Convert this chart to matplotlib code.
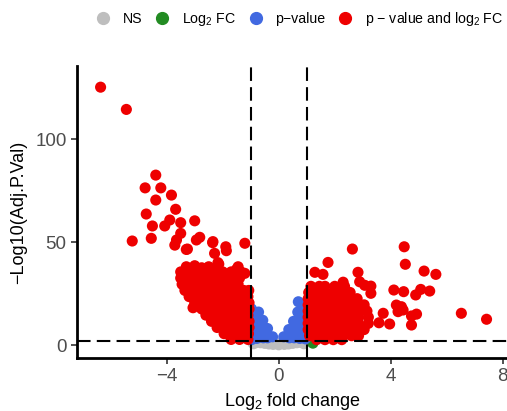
import numpy as np
import matplotlib
matplotlib.use("Agg")
import matplotlib.pyplot as plt
from matplotlib.lines import Line2D

plt.rcParams['font.family'] = ['Liberation Sans', 'DejaVu Sans']
plt.rcParams['mathtext.fontset'] = 'custom'
plt.rcParams['mathtext.rm'] = 'Liberation Sans'
plt.rcParams['mathtext.it'] = 'Liberation Sans'

# ---- data (log2 fold change, -log10 adj p) ----
fc_cutoff = 1.0
p_cutoff = 2.0

# not significant (grey)
ns_pts = [(-0.95, 1.5), (-0.8, 1.3), (-0.65, 1.1), (-0.5, 0.8), (-0.35, 0.5),
          (-0.2, 0.3), (0.0, 0.1), (0.2, 0.3), (0.35, 0.5), (0.5, 0.8),
          (0.65, 1.1), (0.8, 1.3), (0.95, 1.5), (-0.6, 1.7), (0.6, 1.7),
          (-0.25, 1.0), (0.25, 1.0), (0.0, 0.7), (-0.9, 0.6), (0.9, 0.6)]

# log2 FC only (green)
fc_pts = [(1.22, 0.9)]

# p-value only (blue)
p_pts = [(-0.97, 17.5), (-0.95, 13.5), (-0.95, 9.5), (-0.95, 5.5), (-0.97, 2.6),
         (-0.72, 16.0), (-0.75, 11.5), (-0.75, 7.5), (-0.78, 3.2), (-0.57, 12.0),
         (-0.55, 7.5), (-0.55, 3.5), (-0.4, 8.0), (-0.4, 3.5), (-0.22, 4.0),
         (0.7, 21.0), (0.85, 18.5), (0.95, 15.0), (0.95, 11.0), (0.95, 7.0),
         (0.95, 3.0), (0.68, 16.0), (0.75, 11.5), (0.75, 7.5), (0.75, 3.2),
         (0.53, 11.5), (0.55, 7.5), (0.55, 3.5), (0.36, 7.5), (0.38, 3.5),
         (0.18, 4.0)]

# p-value and log2 FC, down (red, left)
down_pts = [(-6.36, 125.2), (-5.44, 114.4), (-4.39, 82.5), (-4.77, 76.3), (-4.21, 76.3),
            (-3.83, 72.8), (-4.39, 70.4), (-3.68, 65.9), (-4.73, 63.6), (-3.89, 60.7),
            (-3.5, 59.4), (-3.0, 60.3), (-4.51, 57.8), (-4.07, 57.8), (-3.5, 54.2),
            (-3.65, 51.0), (-2.82, 52.3), (-2.94, 51.0), (-5.23, 50.5), (-4.55, 51.8),
            (-3.71, 48.5), (-3.3, 46.4), (-2.35, 50.2), (-1.89, 47.7), (-1.87, 45.8),
            (-2.29, 44.5), (-1.21, 49.4), (-2.17, 40.0), (-1.51, 36.7), (-3.26, 46.6),
            (-2.36, 49.7), (-3.06, 18.1), (-2.14, 39.3), (-1.21, 34.8), (-3.44, 34.8),
            (-3.3, 38.0), (-3.0, 38.5), (-2.75, 37.5), (-2.5, 38.0), (-1.45, 38.0),
            (-3.5, 35.5), (-3.2, 35.5), (-2.9, 35.5), (-2.6, 35.5), (-2.3, 35.5),
            (-2.0, 35.5), (-1.7, 35.5), (-1.35, 35.5),
            (-3.5, 32.5), (-3.2, 32.5), (-2.9, 32.5), (-2.6, 32.5), (-2.3, 32.5),
            (-2.0, 32.5), (-1.7, 32.5), (-1.4, 32.5),
            (-3.45, 29.5), (-3.15, 29.5), (-2.85, 29.5), (-2.55, 29.5), (-2.25, 29.5),
            (-1.95, 29.5), (-1.65, 29.5), (-1.45, 29.5),
            (-3.35, 26.5), (-3.05, 26.5), (-2.75, 26.5), (-2.45, 26.5), (-2.15, 26.5),
            (-1.85, 26.5), (-1.55, 26.5), (-1.25, 26.5), (-1.07, 26.5),
            (-3.2, 23.5), (-2.9, 23.5), (-2.6, 23.5), (-2.3, 23.5), (-2.0, 23.5),
            (-1.7, 23.5), (-1.4, 23.5), (-1.1, 23.5),
            (-3.0, 20.5), (-2.7, 20.5), (-2.4, 20.5), (-2.1, 20.5), (-1.8, 20.5),
            (-1.5, 20.5), (-1.2, 20.5), (-1.06, 20.5),
            (-2.75, 17.5), (-2.45, 17.5), (-2.15, 17.5), (-1.85, 17.5), (-1.55, 17.5),
            (-1.25, 17.5), (-1.06, 17.5),
            (-2.6, 14.5), (-2.3, 14.5), (-2.0, 14.5), (-1.7, 14.5), (-1.4, 14.5), (-1.1, 14.5),
            (-2.4, 11.5), (-2.1, 11.5), (-1.8, 11.5), (-1.5, 11.5), (-1.2, 11.5), (-1.06, 11.5),
            (-2.2, 8.5), (-1.9, 8.5), (-1.6, 8.5), (-1.3, 8.5), (-1.06, 8.5),
            (-1.95, 5.5), (-1.65, 5.5), (-1.35, 5.5), (-1.08, 5.5),
            (-1.7, 2.7), (-1.4, 2.7), (-1.1, 2.7)]

# p-value and log2 FC, up (red, right)
up_pts = [(2.63, 46.6), (1.76, 40.1), (1.29, 35.3), (1.58, 34.3), (2.83, 35.3),
          (2.89, 30.7), (3.29, 28.6), (3.29, 25.1), (4.11, 26.7), (4.48, 47.7),
          (4.52, 39.2), (5.19, 35.9), (5.61, 34.3), (4.46, 25.9), (4.89, 24.3),
          (5.07, 27.0), (5.39, 26.2), (4.2, 19.4), (4.38, 18.6), (4.26, 16.2),
          (4.44, 17.0), (4.74, 14.1), (4.92, 15.0), (4.74, 9.7), (3.96, 10.2),
          (6.52, 15.4), (7.42, 12.5), (3.73, 15.4), (3.58, 10.8), (3.07, 29.0),
          (2.3, 30.5),
          (1.15, 28.5), (1.45, 28.5), (1.65, 28.5), (2.0, 28.5), (2.35, 28.5),
          (1.07, 25.5), (1.35, 25.5), (1.65, 25.5), (1.95, 25.5), (2.25, 25.5), (2.55, 25.5),
          (1.05, 22.5), (1.35, 22.5), (1.65, 22.5), (1.95, 22.5), (2.25, 22.5), (2.55, 22.5),
          (2.8, 22.5),
          (1.05, 19.5), (1.35, 19.5), (1.65, 19.5), (1.95, 19.5), (2.25, 19.5), (2.55, 19.5),
          (2.85, 19.5), (3.05, 19.5),
          (1.05, 16.5), (1.35, 16.5), (1.65, 16.5), (1.95, 16.5), (2.25, 16.5), (2.55, 16.5),
          (2.85, 16.5), (3.15, 16.5),
          (1.05, 13.5), (1.35, 13.5), (1.65, 13.5), (1.95, 13.5), (2.25, 13.5), (2.55, 13.5),
          (2.85, 13.5), (3.2, 13.5),
          (1.05, 10.5), (1.35, 10.5), (1.65, 10.5), (1.95, 10.5), (2.25, 10.5), (2.55, 10.5),
          (2.85, 10.5), (3.2, 10.5),
          (1.05, 7.5), (1.35, 7.5), (1.65, 7.5), (1.95, 7.5), (2.25, 7.5), (2.55, 7.5),
          (2.85, 7.5), (3.05, 7.5),
          (1.1, 4.5), (1.4, 4.5), (1.7, 4.5), (2.0, 4.5), (2.3, 4.5), (2.6, 4.5), (2.85, 4.5),
          (1.35, 2.6), (1.65, 2.6), (1.95, 2.6), (2.25, 2.6)]

x_ticks = [-4, 0, 4, 8]
y_ticks = [0, 50, 100]
legend_labels = ["NS", "Log$_2$ FC", "p\u2212value", "p \u2212 value and log$_2$ FC"]
colors = ["#BEBEBE", "#228B22", "#4169E1", "#EE0000"]

# ---- plot ----
fig = plt.figure(figsize=(5.07, 4.11), dpi=100)
ax = fig.add_axes([0.152, 0.129, 0.848, 0.710])

groups = [ns_pts, fc_pts, p_pts, down_pts + up_pts]
for pts, c in zip(groups, colors):
    arr = np.array(pts)
    ax.scatter(arr[:, 0], arr[:, 1], s=64, color=c, edgecolors='none', zorder=2)

dash = (0, (6.5, 3.0))
for xv in (-fc_cutoff, fc_cutoff):
    ax.axvline(xv, color='black', lw=1.5, linestyle=dash, zorder=3)
ax.axhline(p_cutoff, color='black', lw=1.5, linestyle=dash, zorder=3)

ax.set_xlim(-7.2, 8.15)
ax.set_ylim(-6.3, 135.4)
ax.set_xticks(x_ticks)
ax.set_yticks(y_ticks)
ax.set_xticklabels([str(t).replace('-', '\u2212') for t in x_ticks])
ax.tick_params(labelsize=13.5, colors='#333333', labelcolor='#4D4D4D', length=4, width=1.2)

for side in ['top', 'right']:
    ax.spines[side].set_visible(False)
for side in ['left', 'bottom']:
    ax.spines[side].set_linewidth(2)

ax.set_xlabel("Log$_2$ fold change", fontsize=13, labelpad=4)
ax.set_ylabel("\u2212Log10(Adj.P.Val)", fontsize=13, labelpad=6)

handles = [Line2D([], [], marker='o', ls='', color=c, markersize=8.5) for c in colors]
fig.legend(handles, legend_labels, loc='center', bbox_to_anchor=(0.591, 0.954),
           ncol=4, frameon=False, fontsize=10.2, handlelength=1.0, handletextpad=0.9,
           columnspacing=0.9)

plt.savefig("out.png", dpi=100)
